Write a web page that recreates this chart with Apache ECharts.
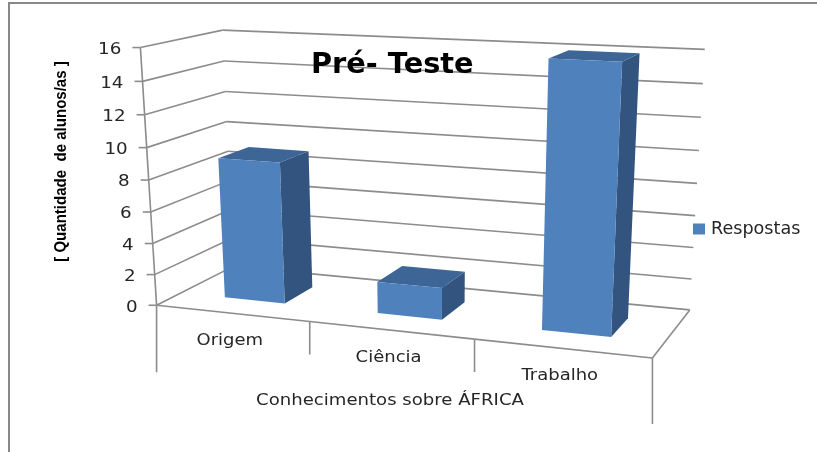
<!DOCTYPE html>
<html>
<head>
<meta charset="utf-8">
<style>html,body{margin:0;padding:0;background:#fff}#c{width:817px;height:452px}</style>
<script src="https://cdn.jsdelivr.net/npm/echarts@6/dist/echarts.min.js"></script>
</head>
<body>
<div id="c"></div>
<script>
const chartTitle = 'Pré- Teste';
const seriesName = 'Respostas';
const categories = ['Origem', 'Ciência', 'Trabalho'];
const values = [9, 2, 16];
const yTicks = [0, 2, 4, 6, 8, 10, 12, 14, 16];
const xAxisName = 'Conhecimentos sobre ÁFRICA';
const yAxisName = '[ Quantidade  de alunos/as ]';

// Calibration of the 3D box: [category pos, value, depth, screen x, screen y]
const boxCalibration = [
  [0,0,0,156,305],[1,0,0,310,322],[2,0,0,474.3,339],[3,0,0,652.6,358],
  [0,16,0,141,48],[0,8,0,148.5,179.5],
  [0,0,1,234,266.6],[3,0,1,689.5,310],[0,16,1,222,30],
  [3,16,1,705,49.5],[3,8,1,697,183]
];
const barHalfWidth = 0.2, barDepth = [0.3, 0.7];

function solve(A, b) {
  const n = b.length;
  const M = A.map((r, i) => r.concat(b[i]));
  for (let i = 0; i < n; i++) {
    let p = i;
    for (let r = i + 1; r < n; r++) if (Math.abs(M[r][i]) > Math.abs(M[p][i])) p = r;
    [M[i], M[p]] = [M[p], M[i]];
    for (let r = 0; r < n; r++) {
      if (r === i) continue;
      const f = M[r][i] / M[i][i];
      for (let c = i; c <= n; c++) M[r][c] -= f * M[i][c];
    }
  }
  return M.map((r, i) => r[n] / r[i]);
}
function fitProjection(pts) {
  const rows = [], rhs = [];
  pts.forEach(([u, v, w, x, y]) => {
    const t = v / 16;
    rows.push([u, t, w, 1, 0, 0, 0, 0, -x * u, -x * t, -x * w]); rhs.push(x);
    rows.push([0, 0, 0, 0, u, t, w, 1, -y * u, -y * t, -y * w]); rhs.push(y);
  });
  const N = 11;
  const A = Array.from({length: N}, (_, i) => Array.from({length: N}, (_, j) =>
    rows.reduce((s, r) => s + r[i] * r[j], 0)));
  const b = Array.from({length: N}, (_, i) => rows.reduce((s, r, k) => s + r[i] * rhs[k], 0));
  return solve(A, b);
}
const H = fitProjection(boxCalibration);
function project(u, v, w) {
  const t = v / 16;
  const d = H[8] * u + H[9] * t + H[10] * w + 1;
  return [(H[0] * u + H[1] * t + H[2] * w + H[3]) / d, (H[4] * u + H[5] * t + H[6] * w + H[7]) / d];
}
// The hidden grid is 300x160 px, so 100 px = one category, 10 px = one value unit.
const toU = p => p[0] / 100;
const toV = p => (160 - p[1]) / 10;

const lineColor = '#8c8c8c';
const textColor = '#262626';
const lineStyle = {stroke: lineColor, lineWidth: 1.6, fill: null};
function line(a, b) {
  return {type: 'line', shape: {x1: a[0], y1: a[1], x2: b[0], y2: b[1]}, style: lineStyle};
}
function label(text, x, y, align, font, sx) {
  return {type: 'text', x: x, y: y, scaleX: sx || 1,
    style: {text: text, x: 0, y: 0, align: align, verticalAlign: 'middle', font: font, fill: textColor}};
}
function poly(pts, fill) {
  return {type: 'polygon', shape: {points: pts}, style: {fill: fill, stroke: null}};
}

const option = {
  animation: false,
  backgroundColor: '#fff',
  title: {text: chartTitle, left: 306, top: 46,
    textStyle: {fontFamily: 'DejaVu Sans', fontWeight: 'bold', fontSize: 28.8, color: '#000'}},
  legend: {data: [seriesName], left: 688, top: 215, itemWidth: 12, itemHeight: 11, itemGap: 0,
    icon: 'rect', textStyle: {fontFamily: 'DejaVu Sans', fontSize: 17.6, color: textColor, padding: [0,0,0,1]}},
  grid: {left: 0, top: 0, width: 300, height: 160, containLabel: false},
  xAxis: {type: 'category', data: categories, show: false},
  yAxis: {type: 'value', min: 0, max: 16, interval: 2, show: false},
  graphic: [
    {type: 'polyline', silent: true, shape: {points: [[9, 452], [9, 3], [817, 3]]},
     style: {stroke: '#888', lineWidth: 2, fill: null}},
    {type: 'text', x: 390, y: 400.5, silent: true, scaleX: 1.16,
     style: {text: xAxisName, align: 'center', verticalAlign: 'middle',
       font: '15.6px "DejaVu Sans"', fill: textColor}},
    {type: 'text', x: 62, y: 161.5, rotation: Math.PI / 2, scaleX: 0.94, silent: true,
     style: {text: yAxisName, align: 'center', verticalAlign: 'middle',
       font: 'bold 16px "Liberation Sans"', fill: '#000'}}
  ],
  series: [
    {
      type: 'custom', name: 'walls', silent: true, z: 1,
      data: yTicks.map(v => [0, v]),
      renderItem(params, api) {
        const val = api.value(1);
        const v = toV(api.coord([0, val]));
        const fl = project(0, v, 0), bl = project(0, v, 1), br = project(3, v, 1);
        const children = [
          line(fl, bl), line(bl, br),
          line([fl[0] - 8, fl[1]], fl),
          label(String(val), fl[0] - 19, fl[1] + 2.5, 'right', '15px "DejaVu Sans"', 1.22)
        ];
        if (val > 0) {
          const below = toV(api.coord([0, val - 2]));
          children.push(line(fl, project(0, below, 0)));
        }
        return {type: 'group', children};
      }
    },
    {
      type: 'custom', name: 'floor', silent: true, z: 1,
      data: categories.map((c, i) => [i, 0]),
      renderItem(params, api) {
        const i = api.value(0);
        const u = toU(api.coord([i, 0]));
        const uL = u - 0.5, uR = u + 0.5;
        const a = project(uL, 0, 0), b = project(uR, 0, 0);
        const children = [line(a, b)];
        const mid = project(u, 0, 0);
        children.push(label(categories[i], mid[0] - 2, mid[1] + 27.5, 'center', '15px "DejaVu Sans"', 1.2));
        if (i === 0) children.push(line(a, [a[0], a[1] + 67]));
        children.push(line(b, [b[0], b[1] + (i === categories.length - 1 ? 66 : 33)]));
        if (i === categories.length - 1) children.push(line(b, project(uR, 0, 1)));
        return {type: 'group', children};
      }
    },
    {
      type: 'custom', name: seriesName, z: 2,
      itemStyle: {color: '#4F81BD'},
      data: values.map((v, i) => [i, v]),
      renderItem(params, api) {
        const p = api.coord([api.value(0), api.value(1)]);
        const u = toU(p), v = toV(p);
        const u0 = u - barHalfWidth, u1 = u + barHalfWidth;
        const [w0, w1] = barDepth;
        const ftl = project(u0, v, w0), ftr = project(u1, v, w0);
        const fbl = project(u0, 0, w0), fbr = project(u1, 0, w0);
        const btl = project(u0, v, w1), btr = project(u1, v, w1), bbr = project(u1, 0, w1);
        return {type: 'group', children: [
          poly([ftr, btr, bbr, fbr], '#32547F'),
          poly([ftl, btl, btr, ftr], '#3D6696'),
          poly([ftl, ftr, fbr, fbl], '#4F81BD')
        ]};
      }
    }
  ]
};
echarts.init(document.getElementById('c'), null, {renderer: 'canvas'}).setOption(option);
</script>
</body>
</html>
